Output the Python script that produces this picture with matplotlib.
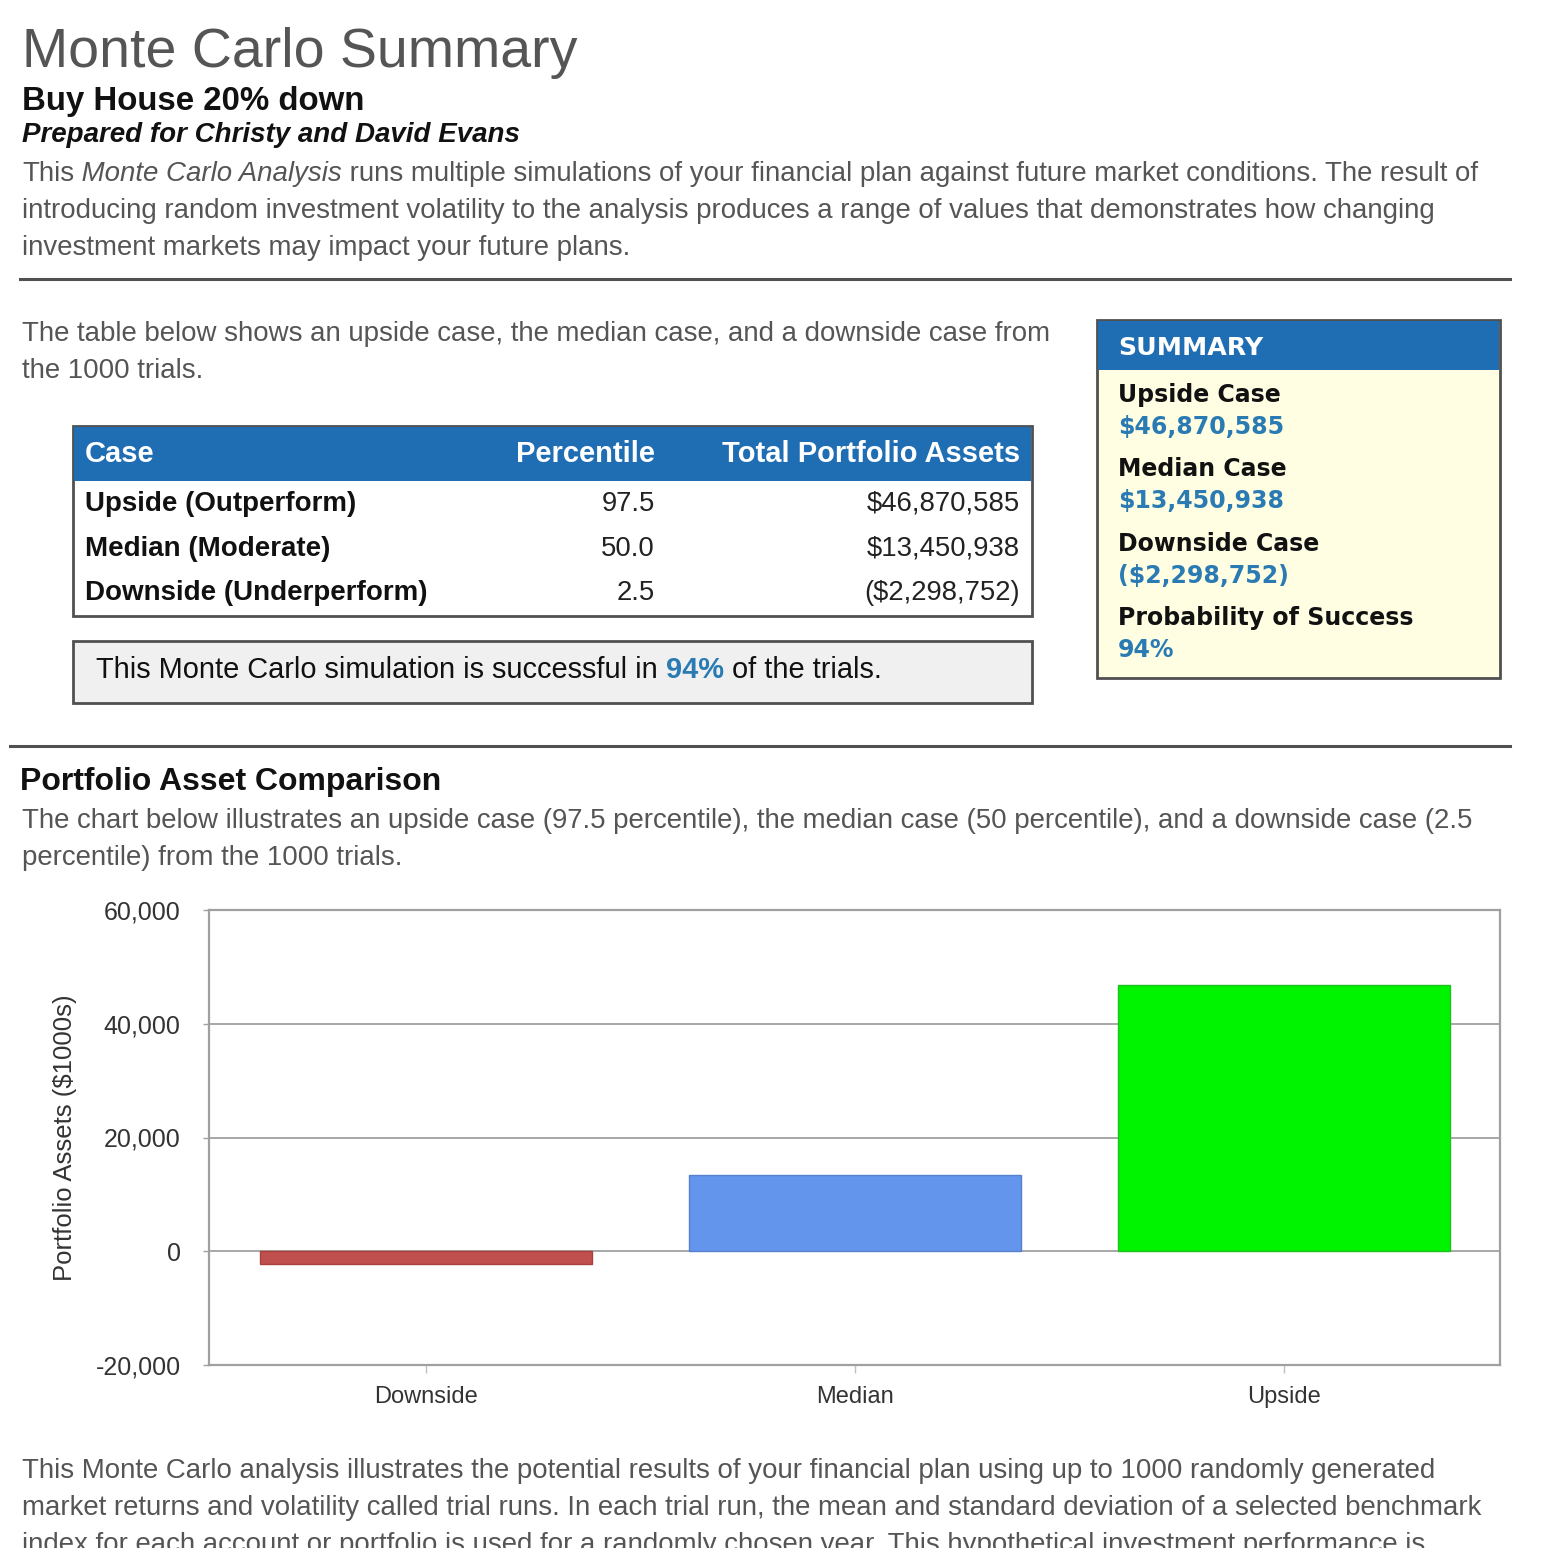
import matplotlib.pyplot as plt
from matplotlib.patches import Rectangle
from matplotlib.ticker import FuncFormatter

# ---- data ----
cases = ['Downside', 'Median', 'Upside']
assets_k = [-2298.752, 13450.938, 46870.585]   # $1000s
bar_colors = ['#c0504d', '#6495ed', '#00f400']
bar_edges = ['#a8403d', '#5580cc', '#20c020']

table_cases = ['Upside (Outperform)', 'Median (Moderate)', 'Downside (Underperform)']
percentiles = ['97.5', '50.0', '2.5']
totals = ['$46,870,585', '$13,450,938', '($2,298,752)']

summary_labels = ['Upside Case', 'Median Case', 'Downside Case', 'Probability of Success']
summary_values = ['$46,870,585', '$13,450,938', '($2,298,752)', '94%']

intro = [
    'This Monte Carlo analysis illustrates the potential results of your financial plan using up to 1000 randomly generated',
    'market returns and volatility called trial runs. In each trial run, the mean and standard deviation of a selected benchmark',
    'index for each account or portfolio is used for a randomly chosen year. This hypothetical investment performance is',
]

W = H = 1548
SANS = 'Liberation Sans'
GREY = '#555555'
BLUE = '#1f6eb4'
VAL_BLUE = '#2a7bb3'
BODY = 19.9

fig = plt.figure(figsize=(15.48, 15.48), dpi=100)
pg = fig.add_axes([0, 0, 1, 1])
pg.set_xlim(0, W)
pg.set_ylim(H, 0)
pg.axis('off')


def txt(x, y, s, size, color=GREY, weight='normal', style='normal', ha='left', family=SANS):
    return pg.text(x, y, s, fontsize=size, color=color, fontweight=weight,
                   fontstyle=style, ha=ha, va='baseline', family=family)


def chain(x, y, parts, size, color=GREY):
    # parts: list of (string, weight, style, color or None)
    s, w, st, c = parts[0]
    t = pg.text(x, y, s, fontsize=size, color=c or color, fontweight=w,
                fontstyle=st, va='baseline', family=SANS)
    for s, w, st, c in parts[1:]:
        t = pg.annotate(s, xy=(1, 0), xycoords=t, va='bottom', ha='left',
                        fontsize=size, color=c or color, fontweight=w,
                        fontstyle=st, family=SANS)


def box(x0, y0, x1, y1, fc, ec='#505050', lw=2):
    pg.add_patch(Rectangle((x0, y0), x1 - x0, y1 - y0, facecolor=fc,
                           edgecolor=ec, lw=lw))


# ---- header ----
txt(22, 67, 'Monte Carlo Summary', 40)
txt(22, 110, 'Buy House 20% down', 23.8, color='#111111', weight='bold')
txt(22, 142, 'Prepared for Christy and David Evans', 20, color='#111111',
    weight='bold', style='italic')
chain(22, 181, [('This', 'normal', 'normal', None),
                (' Monte Carlo Analysis', 'normal', 'italic', None),
                (' runs multiple simulations of your financial plan against future market conditions. The result of',
                 'normal', 'normal', None)], BODY)
txt(22, 218, 'introducing random investment volatility to the analysis produces a range of values that demonstrates how changing', BODY)
txt(22, 255, 'investment markets may impact your future plans.', BODY)
pg.plot([20, 1510], [279, 279], color='#505050', lw=2.2)

txt(22, 341, 'The table below shows an upside case, the median case, and a downside case from', BODY)
txt(22, 378, 'the 1000 trials.', BODY)

# ---- table ----
box(73, 426, 1032, 616, 'white')
pg.add_patch(Rectangle((74, 427), 957, 54, facecolor=BLUE, edgecolor='none'))
txt(85, 462, 'Case', 21, color='white', weight='bold')
txt(655, 462, 'Percentile', 21, color='white', weight='bold', ha='right')
txt(1020, 462, 'Total Portfolio Assets', 21, color='white', weight='bold', ha='right')
for i, (c, p, v) in enumerate(zip(table_cases, percentiles, totals)):
    yb = 511 + i * 44.5
    txt(85, yb, c, 20, color='#111111', weight='bold')
    txt(655, yb, p, 19.8, color='#222222', ha='right')
    txt(1020, yb, v, 19.8, color='#222222', ha='right')

box(73, 641, 1032, 703, '#f0f0f0')
chain(96, 678, [('This Monte Carlo simulation is successful in', 'normal', 'normal', None),
                (' 94%', 'bold', 'normal', VAL_BLUE),
                (' of the trials.', 'normal', 'normal', None)], 20.9, color='#111111')

# ---- summary box ----
box(1097, 320, 1500, 678, '#fffde2')
pg.add_patch(Rectangle((1098, 321), 401, 49, facecolor=BLUE, edgecolor='none'))
txt(1118, 355, 'SUMMARY', 18.2, color='white', weight='bold', family='DejaVu Sans')
for i, (lab, val) in enumerate(zip(summary_labels, summary_values)):
    y0 = 402 + i * 74.3
    txt(1118, y0, lab, 17, color='#111111', weight='bold', family='DejaVu Sans')
    txt(1118, y0 + 32, val, 17, color=VAL_BLUE, weight='bold', family='DejaVu Sans')

# ---- chart section ----
pg.plot([10, 1510], [746, 746], color='#505050', lw=2.2)
txt(20, 790, 'Portfolio Asset Comparison', 23, color='#111111', weight='bold')
txt(22, 828, 'The chart below illustrates an upside case (97.5 percentile), the median case (50 percentile), and a downside case (2.5', BODY)
txt(22, 865, 'percentile) from the 1000 trials.', BODY)

for i, line in enumerate(intro):
    txt(22, 1478 + i * 37, line, BODY)

ax = fig.add_axes([209 / W, 1 - 1365 / H, (1500 - 209) / W, (1365 - 910) / H])
ax.bar(range(len(cases)), assets_k, width=0.774, color=bar_colors,
       edgecolor=bar_edges, lw=1, zorder=3)
ax.set_xlim(-0.506, 2.503)
ax.set_ylim(-20000, 60000)
ax.set_yticks([-20000, 0, 20000, 40000, 60000])
ax.yaxis.set_major_formatter(FuncFormatter(lambda v, p: f'{v:,.0f}'))
ax.set_xticks(range(len(cases)))
ax.set_xticklabels(cases)
ax.grid(axis='y', color='#a0a0a0', lw=1.3, zorder=0)
for sp in ax.spines.values():
    sp.set_color('#a0a0a0')
    sp.set_linewidth(1.6)
ax.tick_params(axis='y', length=4.5, width=1, color='#a0a0a0', pad=16,
               labelsize=18, labelcolor='#333333')
ax.tick_params(axis='x', length=6, width=1, color='#c0c0c0', pad=9,
               labelsize=17, labelcolor='#333333')
for lb in ax.get_xticklabels() + ax.get_yticklabels():
    lb.set_family(SANS)
ax.set_ylabel('Portfolio Assets ($1000s)', fontsize=18.5, color='#333333', family=SANS)
ax.yaxis.set_label_coords(-0.102, 0.5)

fig.savefig('out.png', dpi=100)
